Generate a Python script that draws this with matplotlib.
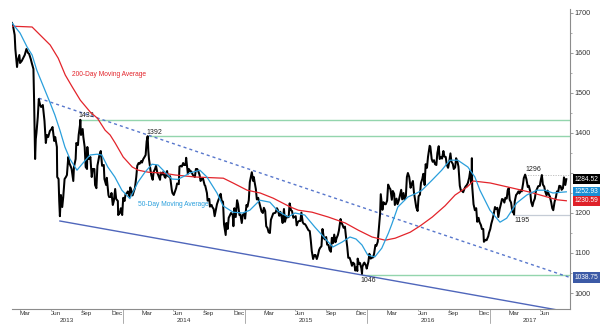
import matplotlib
matplotlib.use("Agg")
import matplotlib.pyplot as plt
import matplotlib.transforms as mtrans
import pandas as pd

# gold spot, roughly weekly closes plus the turning points
gold_2013 = [
    ("2013-02-05", 1675), ("2013-02-08", 1668), ("2013-02-13", 1645), ("2013-02-15", 1610),
    ("2013-02-20", 1565), ("2013-02-22", 1580), ("2013-02-27", 1595), ("2013-03-01", 1575),
    ("2013-03-06", 1580), ("2013-03-12", 1590), ("2013-03-15", 1595), ("2013-03-20", 1610),
    ("2013-03-25", 1600), ("2013-03-28", 1598), ("2013-04-02", 1585), ("2013-04-05", 1575),
    ("2013-04-10", 1560), ("2013-04-12", 1480), ("2013-04-15", 1335), ("2013-04-17", 1385),
    ("2013-04-19", 1400), ("2013-04-23", 1440), ("2013-04-26", 1485), ("2013-04-30", 1470),
    ("2013-05-03", 1465), ("2013-05-08", 1470), ("2013-05-13", 1430), ("2013-05-17", 1375),
    ("2013-05-20", 1395), ("2013-05-24", 1390), ("2013-05-29", 1405), ("2013-06-03", 1410),
    ("2013-06-06", 1415), ("2013-06-11", 1380), ("2013-06-14", 1390), ("2013-06-19", 1365),
    ("2013-06-20", 1290), ("2013-06-24", 1285), ("2013-06-26", 1230), ("2013-06-28", 1192),
    ("2013-07-01", 1245), ("2013-07-05", 1215), ("2013-07-08", 1240), ("2013-07-12", 1285),
    ("2013-07-16", 1290), ("2013-07-19", 1295), ("2013-07-23", 1340), ("2013-07-26", 1325),
    ("2013-07-31", 1315), ("2013-08-02", 1310), ("2013-08-07", 1280), ("2013-08-09", 1315),
    ("2013-08-14", 1335), ("2013-08-16", 1375), ("2013-08-21", 1370), ("2013-08-23", 1395),
    ("2013-08-27", 1420), ("2013-08-28", 1433), ("2013-08-30", 1395), ("2013-09-04", 1410),
    ("2013-09-06", 1390), ("2013-09-10", 1365), ("2013-09-13", 1315), ("2013-09-17", 1310),
    ("2013-09-18", 1365), ("2013-09-20", 1335), ("2013-09-25", 1335), ("2013-09-27", 1340),
    ("2013-10-01", 1290), ("2013-10-04", 1310), ("2013-10-09", 1310), ("2013-10-11", 1270),
    ("2013-10-15", 1262), ("2013-10-18", 1318), ("2013-10-24", 1345), ("2013-10-28", 1355),
    ("2013-11-01", 1318), ("2013-11-06", 1320), ("2013-11-08", 1285), ("2013-11-13", 1270),
    ("2013-11-15", 1288), ("2013-11-20", 1245), ("2013-11-22", 1240), ("2013-11-27", 1240),
    ("2013-11-29", 1250), ("2013-12-03", 1220), ("2013-12-06", 1230), ("2013-12-10", 1260),
    ("2013-12-13", 1235), ("2013-12-18", 1230), ("2013-12-19", 1195), ("2013-12-24", 1200),
    ("2013-12-27", 1212), ("2013-12-31", 1195),
]
gold_2014 = [
    ("2014-01-03", 1238), ("2014-01-07", 1230), ("2014-01-10", 1247), ("2014-01-14", 1250),
    ("2014-01-17", 1254), ("2014-01-22", 1240), ("2014-01-24", 1264), ("2014-01-28", 1255),
    ("2014-01-31", 1244), ("2014-02-04", 1255), ("2014-02-07", 1262), ("2014-02-11", 1290),
    ("2014-02-14", 1318), ("2014-02-18", 1325), ("2014-02-21", 1323), ("2014-02-26", 1330),
    ("2014-02-28", 1326), ("2014-03-04", 1335), ("2014-03-07", 1339), ("2014-03-11", 1345),
    ("2014-03-14", 1379), ("2014-03-17", 1392), ("2014-03-19", 1355), ("2014-03-21", 1335),
    ("2014-03-25", 1310), ("2014-03-28", 1294), ("2014-04-01", 1283), ("2014-04-04", 1303),
    ("2014-04-08", 1310), ("2014-04-11", 1318), ("2014-04-15", 1300), ("2014-04-18", 1294),
    ("2014-04-23", 1283), ("2014-04-25", 1301), ("2014-04-29", 1296), ("2014-05-02", 1302),
    ("2014-05-07", 1290), ("2014-05-09", 1288), ("2014-05-14", 1305), ("2014-05-16", 1293),
    ("2014-05-21", 1290), ("2014-05-23", 1292), ("2014-05-28", 1258), ("2014-05-30", 1250),
    ("2014-06-03", 1245), ("2014-06-06", 1252), ("2014-06-10", 1262), ("2014-06-13", 1274),
    ("2014-06-18", 1272), ("2014-06-20", 1316), ("2014-06-24", 1318), ("2014-06-27", 1316),
    ("2014-07-01", 1325), ("2014-07-04", 1320), ("2014-07-08", 1320), ("2014-07-10", 1338),
    ("2014-07-15", 1298), ("2014-07-18", 1310), ("2014-07-22", 1305), ("2014-07-25", 1304),
    ("2014-07-30", 1295), ("2014-08-01", 1293), ("2014-08-05", 1290), ("2014-08-08", 1310),
    ("2014-08-12", 1310), ("2014-08-15", 1305), ("2014-08-19", 1295), ("2014-08-22", 1280),
    ("2014-08-26", 1285), ("2014-08-29", 1287), ("2014-09-03", 1270), ("2014-09-05", 1268),
    ("2014-09-10", 1250), ("2014-09-12", 1231), ("2014-09-17", 1235), ("2014-09-19", 1216),
    ("2014-09-24", 1220), ("2014-09-26", 1215), ("2014-09-30", 1210), ("2014-10-03", 1192),
    ("2014-10-07", 1210), ("2014-10-10", 1222), ("2014-10-14", 1232), ("2014-10-17", 1238),
    ("2014-10-21", 1248), ("2014-10-24", 1231), ("2014-10-28", 1228), ("2014-10-31", 1172),
    ("2014-11-05", 1145), ("2014-11-07", 1175), ("2014-11-11", 1160), ("2014-11-14", 1188),
    ("2014-11-18", 1195), ("2014-11-21", 1200), ("2014-11-26", 1195), ("2014-11-28", 1167),
    ("2014-12-01", 1212), ("2014-12-05", 1190), ("2014-12-09", 1232), ("2014-12-12", 1222),
    ("2014-12-16", 1195), ("2014-12-19", 1196), ("2014-12-23", 1175), ("2014-12-26", 1195),
    ("2014-12-31", 1199),
]
gold_2015 = [
    ("2015-01-02", 1186), ("2015-01-06", 1220), ("2015-01-09", 1216), ("2015-01-13", 1232),
    ("2015-01-16", 1277), ("2015-01-20", 1293), ("2015-01-22", 1302), ("2015-01-26", 1280),
    ("2015-01-28", 1290), ("2015-01-30", 1279), ("2015-02-03", 1260), ("2015-02-06", 1234),
    ("2015-02-10", 1238), ("2015-02-13", 1227), ("2015-02-18", 1210), ("2015-02-20", 1204),
    ("2015-02-24", 1200), ("2015-02-27", 1213), ("2015-03-03", 1205), ("2015-03-06", 1167),
    ("2015-03-10", 1162), ("2015-03-13", 1152), ("2015-03-17", 1150), ("2015-03-20", 1183),
    ("2015-03-24", 1192), ("2015-03-27", 1199), ("2015-04-01", 1200), ("2015-04-03", 1201),
    ("2015-04-07", 1212), ("2015-04-10", 1207), ("2015-04-14", 1193), ("2015-04-17", 1203),
    ("2015-04-21", 1190), ("2015-04-24", 1175), ("2015-04-28", 1210), ("2015-05-01", 1178),
    ("2015-05-05", 1192), ("2015-05-08", 1189), ("2015-05-12", 1190), ("2015-05-15", 1224),
    ("2015-05-19", 1207), ("2015-05-22", 1205), ("2015-05-26", 1188), ("2015-05-29", 1190),
    ("2015-06-02", 1192), ("2015-06-05", 1169), ("2015-06-09", 1178), ("2015-06-12", 1180),
    ("2015-06-16", 1180), ("2015-06-19", 1201), ("2015-06-23", 1177), ("2015-06-26", 1173),
    ("2015-06-30", 1172), ("2015-07-03", 1168), ("2015-07-07", 1162), ("2015-07-10", 1157),
    ("2015-07-14", 1155), ("2015-07-17", 1132), ("2015-07-20", 1105), ("2015-07-24", 1085),
    ("2015-07-28", 1095), ("2015-07-31", 1095), ("2015-08-04", 1085), ("2015-08-07", 1093),
    ("2015-08-11", 1108), ("2015-08-14", 1113), ("2015-08-18", 1117), ("2015-08-21", 1160),
    ("2015-08-25", 1138), ("2015-08-28", 1134), ("2015-09-01", 1140), ("2015-09-04", 1121),
    ("2015-09-08", 1120), ("2015-09-11", 1108), ("2015-09-15", 1103), ("2015-09-18", 1138),
    ("2015-09-22", 1125), ("2015-09-25", 1146), ("2015-09-29", 1127), ("2015-10-02", 1137),
    ("2015-10-06", 1145), ("2015-10-09", 1156), ("2015-10-14", 1185), ("2015-10-16", 1177),
    ("2015-10-20", 1170), ("2015-10-23", 1163), ("2015-10-27", 1166), ("2015-10-30", 1142),
    ("2015-11-03", 1115), ("2015-11-06", 1088), ("2015-11-10", 1088), ("2015-11-13", 1081),
    ("2015-11-17", 1068), ("2015-11-20", 1076), ("2015-11-24", 1073), ("2015-11-27", 1056),
    ("2015-12-01", 1065), ("2015-12-03", 1055), ("2015-12-04", 1086), ("2015-12-08", 1073),
    ("2015-12-11", 1075), ("2015-12-15", 1062), ("2015-12-17", 1048), ("2015-12-18", 1065),
    ("2015-12-22", 1074), ("2015-12-24", 1076), ("2015-12-29", 1068), ("2015-12-31", 1061),
]
gold_2016 = [
    ("2016-01-05", 1078), ("2016-01-08", 1098), ("2016-01-12", 1086), ("2016-01-15", 1088),
    ("2016-01-19", 1089), ("2016-01-22", 1098), ("2016-01-26", 1120), ("2016-01-29", 1118),
    ("2016-02-02", 1128), ("2016-02-05", 1157), ("2016-02-09", 1198), ("2016-02-11", 1247),
    ("2016-02-16", 1208), ("2016-02-19", 1227), ("2016-02-23", 1222), ("2016-02-26", 1222),
    ("2016-03-01", 1231), ("2016-03-04", 1271), ("2016-03-08", 1263), ("2016-03-11", 1259),
    ("2016-03-15", 1233), ("2016-03-18", 1255), ("2016-03-22", 1248), ("2016-03-24", 1220),
    ("2016-03-29", 1236), ("2016-04-01", 1222), ("2016-04-05", 1232), ("2016-04-08", 1243),
    ("2016-04-12", 1258), ("2016-04-15", 1234), ("2016-04-19", 1250), ("2016-04-22", 1234),
    ("2016-04-26", 1243), ("2016-04-29", 1290), ("2016-05-02", 1300), ("2016-05-06", 1290),
    ("2016-05-10", 1263), ("2016-05-13", 1272), ("2016-05-17", 1280), ("2016-05-20", 1252),
    ("2016-05-24", 1230), ("2016-05-27", 1214), ("2016-05-31", 1205), ("2016-06-03", 1242),
    ("2016-06-07", 1246), ("2016-06-10", 1275), ("2016-06-14", 1285), ("2016-06-17", 1298),
    ("2016-06-21", 1270), ("2016-06-24", 1322), ("2016-06-28", 1313), ("2016-07-01", 1340),
    ("2016-07-06", 1368), ("2016-07-08", 1366), ("2016-07-12", 1335), ("2016-07-15", 1328),
    ("2016-07-19", 1332), ("2016-07-22", 1322), ("2016-07-26", 1320), ("2016-07-29", 1350),
    ("2016-08-02", 1367), ("2016-08-05", 1335), ("2016-08-09", 1340), ("2016-08-12", 1336),
    ("2016-08-16", 1355), ("2016-08-19", 1341), ("2016-08-23", 1340), ("2016-08-26", 1321),
    ("2016-08-30", 1313), ("2016-09-02", 1326), ("2016-09-06", 1349), ("2016-09-09", 1328),
    ("2016-09-13", 1323), ("2016-09-16", 1310), ("2016-09-20", 1314), ("2016-09-23", 1337),
    ("2016-09-27", 1328), ("2016-09-30", 1316), ("2016-10-04", 1268), ("2016-10-07", 1257),
    ("2016-10-11", 1255), ("2016-10-14", 1252), ("2016-10-18", 1261), ("2016-10-21", 1266),
    ("2016-10-25", 1270), ("2016-10-28", 1275), ("2016-11-01", 1288), ("2016-11-04", 1305),
    ("2016-11-08", 1275), ("2016-11-09", 1337), ("2016-11-10", 1266), ("2016-11-14", 1222),
    ("2016-11-18", 1207), ("2016-11-22", 1212), ("2016-11-25", 1178), ("2016-11-29", 1188),
    ("2016-12-02", 1177), ("2016-12-06", 1170), ("2016-12-09", 1160), ("2016-12-13", 1160),
    ("2016-12-15", 1128), ("2016-12-20", 1133), ("2016-12-23", 1132), ("2016-12-28", 1142),
    ("2016-12-30", 1150),
]
gold_2017 = [
    ("2017-01-03", 1160), ("2017-01-06", 1173), ("2017-01-10", 1185), ("2017-01-13", 1196),
    ("2017-01-17", 1215), ("2017-01-20", 1210), ("2017-01-24", 1213), ("2017-01-27", 1190),
    ("2017-01-31", 1210), ("2017-02-03", 1220), ("2017-02-07", 1235), ("2017-02-10", 1234),
    ("2017-02-14", 1226), ("2017-02-17", 1238), ("2017-02-21", 1236), ("2017-02-24", 1257),
    ("2017-02-27", 1262), ("2017-03-02", 1233), ("2017-03-06", 1226), ("2017-03-10", 1203),
    ("2017-03-14", 1200), ("2017-03-15", 1196), ("2017-03-17", 1229), ("2017-03-21", 1245),
    ("2017-03-24", 1248), ("2017-03-28", 1254), ("2017-03-31", 1249), ("2017-04-04", 1257),
    ("2017-04-07", 1254), ("2017-04-11", 1274), ("2017-04-13", 1287), ("2017-04-17", 1296),
    ("2017-04-21", 1284), ("2017-04-25", 1265), ("2017-04-28", 1268), ("2017-05-02", 1255),
    ("2017-05-05", 1228), ("2017-05-09", 1217), ("2017-05-12", 1228), ("2017-05-16", 1236),
    ("2017-05-19", 1254), ("2017-05-23", 1261), ("2017-05-26", 1267), ("2017-05-31", 1268),
    ("2017-06-02", 1279), ("2017-06-06", 1295), ("2017-06-09", 1271), ("2017-06-13", 1266),
    ("2017-06-16", 1254), ("2017-06-20", 1244), ("2017-06-23", 1256), ("2017-06-27", 1246),
    ("2017-06-30", 1241), ("2017-07-04", 1226), ("2017-07-07", 1212), ("2017-07-10", 1207),
    ("2017-07-14", 1228), ("2017-07-18", 1240), ("2017-07-21", 1254), ("2017-07-25", 1254),
    ("2017-07-28", 1268), ("2017-08-01", 1267), ("2017-08-04", 1258), ("2017-08-08", 1262),
    ("2017-08-11", 1289), ("2017-08-15", 1270), ("2017-08-18", 1284.52),
]

ma200 = [
    ("2013-02-05", 1667), ("2013-04-06", 1665), ("2013-04-30", 1645), ("2013-05-30", 1620),
    ("2013-06-23", 1587), ("2013-07-14", 1545), ("2013-08-04", 1515), ("2013-08-28", 1482),
    ("2013-09-27", 1452), ("2013-10-18", 1437), ("2013-11-10", 1407), ("2013-11-25", 1395),
    ("2013-12-10", 1375), ("2014-01-03", 1340), ("2014-01-30", 1315), ("2014-02-17", 1307),
    ("2014-03-19", 1302), ("2014-04-30", 1300), ("2014-06-07", 1295), ("2014-08-06", 1290),
    ("2014-10-29", 1287), ("2014-11-27", 1275), ("2015-01-08", 1257), ("2015-02-16", 1250),
    ("2015-03-27", 1237), ("2015-05-17", 1215), ("2015-06-10", 1207), ("2015-07-21", 1202),
    ("2015-09-07", 1190), ("2015-10-28", 1175), ("2015-12-06", 1157), ("2016-01-16", 1140),
    ("2016-02-24", 1132), ("2016-03-25", 1137), ("2016-05-09", 1152), ("2016-06-08", 1168),
    ("2016-07-14", 1190), ("2016-08-21", 1218), ("2016-09-20", 1245), ("2016-10-26", 1265),
    ("2016-11-13", 1280), ("2017-01-03", 1275), ("2017-03-12", 1262), ("2017-05-02", 1252),
    ("2017-06-22", 1240), ("2017-07-22", 1233), ("2017-08-18", 1230.59),
]

ma50 = [
    ("2013-02-05", 1675), ("2013-03-01", 1650), ("2013-03-22", 1615), ("2013-04-06", 1595),
    ("2013-04-20", 1557), ("2013-05-08", 1520), ("2013-05-29", 1477), ("2013-06-13", 1445),
    ("2013-06-28", 1407), ("2013-07-13", 1365), ("2013-07-28", 1335), ("2013-08-18", 1307),
    ("2013-09-05", 1325), ("2013-09-26", 1345), ("2013-10-17", 1347), ("2013-10-31", 1345),
    ("2013-11-18", 1315), ("2013-12-09", 1290), ("2013-12-30", 1257), ("2014-01-23", 1236),
    ("2014-02-16", 1277), ("2014-03-09", 1302), ("2014-03-30", 1322), ("2014-04-17", 1320),
    ("2014-05-08", 1302), ("2014-05-28", 1285), ("2014-06-15", 1284), ("2014-07-06", 1293),
    ("2014-07-21", 1300), ("2014-08-20", 1307), ("2014-09-10", 1290), ("2014-10-10", 1250),
    ("2014-10-28", 1218), ("2014-11-27", 1202), ("2014-12-26", 1200), ("2015-01-16", 1207),
    ("2015-02-15", 1232), ("2015-03-17", 1227), ("2015-04-10", 1205), ("2015-05-10", 1190),
    ("2015-05-31", 1200), ("2015-06-29", 1195), ("2015-07-29", 1165), ("2015-08-28", 1137),
    ("2015-09-21", 1115), ("2015-10-18", 1127), ("2015-11-11", 1140), ("2015-11-29", 1135),
    ("2015-12-17", 1120), ("2016-01-03", 1095), ("2016-01-24", 1090), ("2016-02-14", 1112),
    ("2016-03-05", 1150), ("2016-03-15", 1172), ("2016-04-02", 1215), ("2016-05-02", 1240),
    ("2016-05-29", 1250), ("2016-06-13", 1257), ("2016-07-13", 1282), ("2016-08-11", 1307),
    ("2016-09-04", 1332), ("2016-09-28", 1332), ("2016-10-28", 1315), ("2016-11-18", 1290),
    ("2016-12-03", 1257), ("2017-01-02", 1207), ("2017-02-01", 1177), ("2017-02-21", 1187),
    ("2017-03-23", 1225), ("2017-04-22", 1245), ("2017-05-22", 1257), ("2017-06-15", 1257),
    ("2017-07-09", 1250), ("2017-08-18", 1252.93),
]

# marked highs / lows and the trend channel
peak_2013 = ("2013-08-28", 1433)
peak_2014 = ("2014-03-17", 1392)
low_2015 = ("2015-12-17", 1046)
high_2017 = ("2017-04-17", 1296)
low_2017 = ("2017-03-15", 1195)
upper_trend = [("2013-04-26", 1487), ("2017-08-29", 1038.75)]
lower_trend = [("2013-06-28", 1180), ("2017-08-29", 952)]

x_start, x_end = pd.Timestamp("2013-02-05"), pd.Timestamp("2017-08-29")


def series(rows):
    d = pd.DataFrame(rows, columns=["date", "value"])
    d["date"] = pd.to_datetime(d["date"])
    return d


gold = series(gold_2013 + gold_2014 + gold_2015 + gold_2016 + gold_2017)
m200 = series(ma200)
m50 = series(ma50)
up = series(upper_trend)
lo = series(lower_trend)

RED = "#e3242b"
BLUE = "#2a9fdc"
GREEN = "#93d5ad"
TREND = "#4f66bb"
GREY = "#8c8c8c"
plt.rcParams["font.family"] = ["Liberation Sans", "DejaVu Sans"]

fig = plt.figure(figsize=(6, 3.36), dpi=100)
ax = fig.add_axes([12 / 600, 27 / 336, 558 / 600, 300 / 336])
ax.set_xlim(x_start, x_end)
ax.set_ylim(960, 1710)

# support / resistance levels
for (d, v), c in [(peak_2013, GREEN), (peak_2014, GREEN), (low_2015, GREEN)]:
    ax.hlines(v, pd.Timestamp(d), x_end, color=c, lw=1.0, zorder=1)
ax.hlines(low_2017[1], pd.Timestamp(low_2017[0]), x_end, color="#c5ccd6", lw=0.9, zorder=1)
ax.hlines(high_2017[1], pd.Timestamp(high_2017[0]), x_end, color="#b9b9b9", lw=0.6,
          linestyles=(0, (1.5, 1.5)), zorder=1)

ax.plot(up["date"], up["value"], color="#5877cc", lw=1.0, ls=(0, (2.2, 2.2)), zorder=2)
ax.plot(lo["date"], lo["value"], color=TREND, lw=1.0, zorder=2)

ax.plot(gold["date"], gold["value"], color="black", lw=1.45, zorder=3)
ax.plot(m200["date"], m200["value"], color=RED, lw=0.9, zorder=4)
ax.plot(m50["date"], m50["value"], color=BLUE, lw=0.9, zorder=4)

ax.text(pd.Timestamp("2013-08-04"), 1545, "200-Day Moving Average", color=RED,
        fontsize=4.8, va="center", ha="left")
ax.text(pd.Timestamp("2014-02-17"), 1222, "50-Day Moving Average", color=BLUE,
        fontsize=4.8, va="center", ha="left")

lbl = dict(fontsize=5, color="#222222")
for (d, v), off, ha, va in [
    (peak_2013, (-1, 0.5), "left", "bottom"),
    (peak_2014, (-1, 0.5), "left", "bottom"),
    (high_2017, (0, 1.5), "left", "bottom"),
    (low_2015, (-1, -1.5), "left", "top"),
    (low_2017, (0, -1.5), "left", "top"),
]:
    ax.annotate(f"{v:g}", (pd.Timestamp(d), v), xytext=off, textcoords="offset points",
                ha=ha, va=va, **lbl)

# axes styling
for s in ("top", "left"):
    ax.spines[s].set_visible(False)
for s in ("right", "bottom"):
    ax.spines[s].set_color(GREY)
    ax.spines[s].set_linewidth(0.8)

ax.yaxis.tick_right()
yt = list(range(1000, 1701, 100))
ax.set_yticks(yt)
ax.set_yticklabels(["" if v == 1300 else str(v) for v in yt])
ax.set_yticks(list(range(1000, 1701, 50)), minor=True)
ax.tick_params(axis="y", which="major", length=2, width=0.6, color=GREY, pad=1.5,
               labelsize=5.2, labelcolor="#333333")
ax.tick_params(axis="y", which="minor", length=1.2, width=0.5, color=GREY)

months = pd.date_range("2013-03-01", "2017-06-01", freq="3MS")
ax.set_xticks(months)
ax.set_xticklabels([])
ax.set_xticks(months + pd.Timedelta(days=14), minor=True)
ax.set_xticklabels([m.strftime("%b") for m in months], minor=True)
ax.tick_params(axis="x", which="major", length=1.5, width=0.5, color=GREY)
ax.tick_params(axis="x", which="minor", length=0, pad=1.2, labelsize=4.6, labelcolor="#333333")

xtrans = mtrans.blended_transform_factory(ax.transData, ax.transAxes)
for yr in range(2013, 2018):
    a = max(pd.Timestamp(f"{yr}-01-01"), x_start)
    b = min(pd.Timestamp(f"{yr + 1}-01-01"), x_end)
    ax.text(a + (b - a) / 2, -0.04, str(yr), transform=xtrans, fontsize=4.6,
            color="#333333", ha="center", va="center")
    if yr > 2013:
        ax.plot([a, a], [0, -0.045], transform=xtrans, color=GREY, lw=0.5, clip_on=False)

# last-value tags on the price scale
ytrans = mtrans.blended_transform_factory(ax.transAxes, ax.transData)
for v, c in [(gold["value"].iloc[-1], "black"), (m50["value"].iloc[-1], "#1a8fd6"),
             (m200["value"].iloc[-1], "#df2129"), (up["value"].iloc[-1], "#3c5aa6")]:
    ax.text(1.008, v, f"{v:.2f}", transform=ytrans, fontsize=4.8, color="white",
            ha="left", va="center", zorder=6,
            bbox=dict(boxstyle="square,pad=0.25", fc=c, ec="none"))

fig.savefig("out.png", dpi=100)
